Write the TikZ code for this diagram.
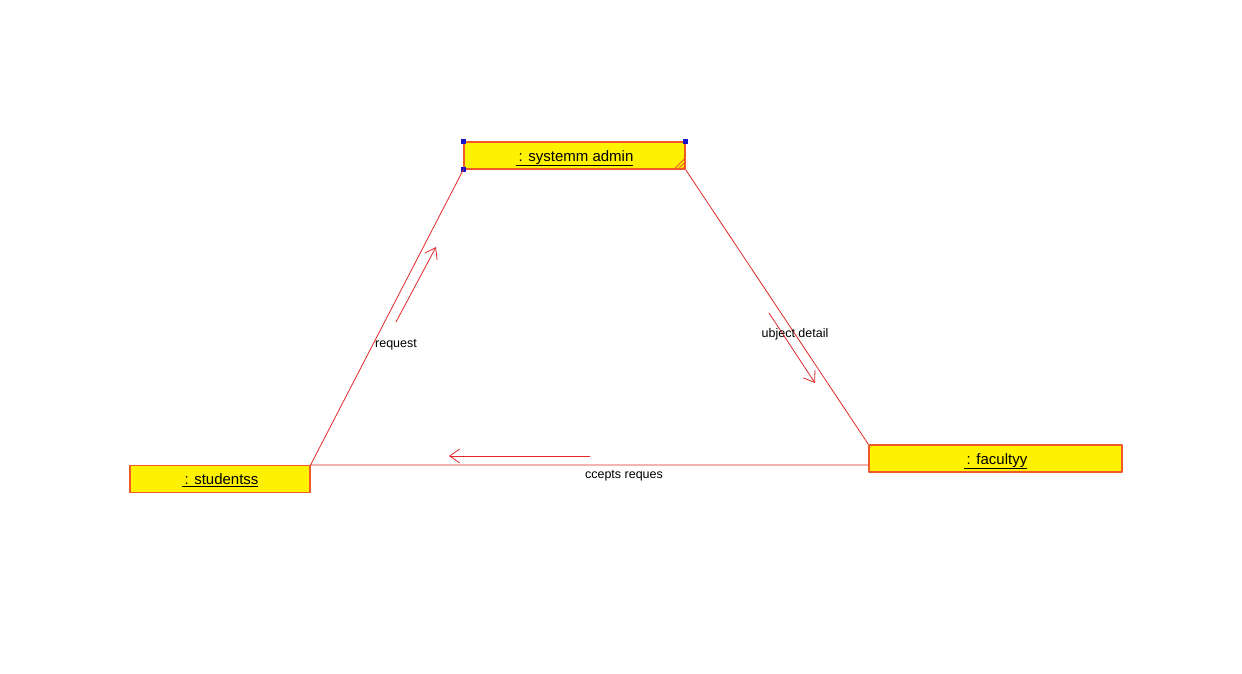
\documentclass[tikz,border=0pt]{standalone}
\usepackage{fontspec}
\setmainfont{Liberation Sans}
\usetikzlibrary{arrows.meta}
\definecolor{boxline}{RGB}{240,90,40}
\definecolor{linkred}{RGB}{225,40,40}
\definecolor{handle}{RGB}{20,20,200}
\begin{document}
\begin{tikzpicture}[x=1pt,y=-1pt,line cap=round,line join=round,
    obj/.style={draw=boxline,fill=yellow,line width=1.2pt,minimum height=27pt,inner sep=0pt,
      text height=11pt,text depth=0pt,font=\fontsize{15}{17}\selectfont},
    link/.style={draw=linkred,line width=0.8pt},
    msg/.style={draw=linkred,line width=0.8pt,-{Straight Barb[length=10pt,width=14pt]}},
    lbl/.style={font=\fontsize{12.5}{14}\selectfont,inner sep=0pt}]
      \useasboundingbox (0,0) rectangle (1242,674);

      \node[obj,minimum width=221pt] (admin) at (574.5,155.5) {\underline{\kern3pt: systemm admin}};
      \node[obj,minimum width=180pt] (stud) at (220,479) {\underline{\kern3pt: studentss}};
      \node[obj,minimum width=253pt] (fac) at (995.5,458.5) {\underline{\kern3pt: facultyy}};

      % selection handles and corner
      \foreach \c in {north west,north east,south west}
        \fill[handle] (admin.\c) ++(-2.5,-2.5) rectangle ++(5,5);
      \foreach \d in {4,8,12}
        \draw[boxline,line width=0.9pt] (admin.south east) ++(-\d,0) -- ++(\d,-\d);

      \draw[link] (stud.north east) -- (admin.south west)
                  (admin.south east) -- (fac.north west)
                  (stud.north east) -- (stud.north east -| fac.west);

      \coordinate (req1) at (396,322);
      \coordinate (req2) at (436,247);
      \coordinate (sub1) at (769,313);
      \coordinate (sub2) at (815,383);
      \coordinate (acc1) at (590,456);
      \coordinate (acc2) at (449,456);
      \draw[msg] (req1) -- (req2);
      \draw[msg] (sub1) -- (sub2);
      \draw[msg] (acc1) -- (acc2);

      \node[lbl] (reqlbl) at (396,345) {request};
      \node[lbl] (sublbl) at (795,334) {ubject detail};
      \node[lbl] (acclbl) at (624,476) {ccepts reques};
\end{tikzpicture}
\end{document}
